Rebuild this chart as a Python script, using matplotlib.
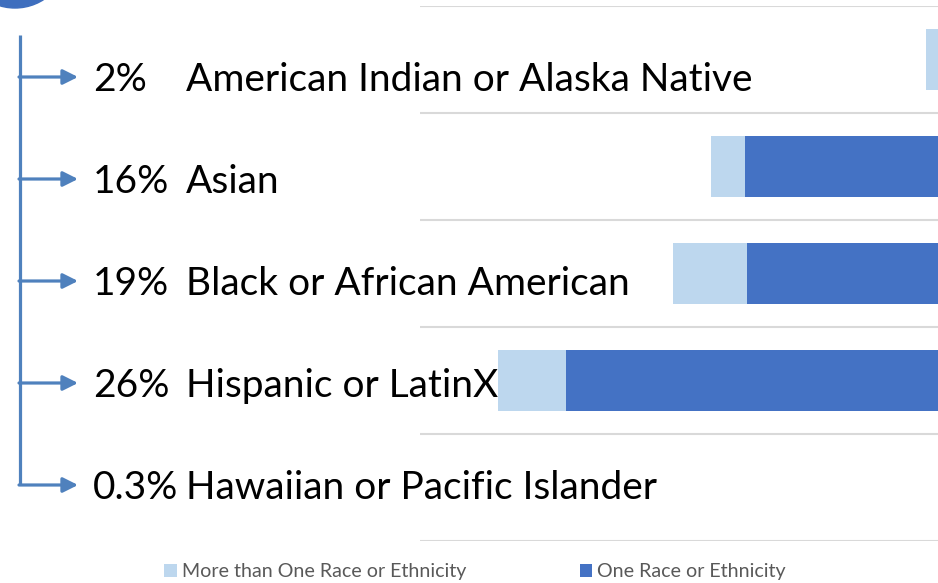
import numpy as np
import matplotlib.pyplot as plt
from matplotlib.patches import Circle

categories = [
    "American Indian or Alaska Native",
    "Asian",
    "Black or African American",
    "Hispanic or LatinX",
    "Hawaiian or Pacific Islander",
]
pct_labels = ["2%", "16%", "19%", "26%", "0.3%"]
one_race = [3.2, 12.87, 12.77, 21.75, 0.3]
multi_race = [0.7, 1.69, 3.67, 3.37, 0.1]
series_names = ["More than One Race or Ethnicity", "One Race or Ethnicity"]

LIGHT = "#BDD7EE"
DARK = "#4472C4"
ARROW = "#4F81BD"
W, H = 938, 583

plt.rcParams["font.family"] = ["Lato", "DejaVu Sans"]
fig = plt.figure(figsize=(W / 100, H / 100), dpi=100)

# bar chart (cropped on the right, bars grow leftwards)
ax = fig.add_axes([420 / W, 1 - 541 / H, 1 - 420 / W, (541 - 6) / H])
ax.patch.set_alpha(0)
y = np.arange(len(categories))
h_one = ax.barh(y, one_race, height=0.57, color=DARK, label=series_names[1])
h_multi = ax.barh(y, multi_race, left=one_race, height=0.57, color=LIGHT,
                  label=series_names[0])
ax.set_xlim(29, 3.3)
ax.set_ylim(len(categories) - 0.5, -0.5)
ax.set_yticks(np.arange(-0.5, len(categories)), minor=False)
ax.yaxis.grid(True, color="#D9D9D9", linewidth=1.5)
ax.set_axisbelow(True)
ax.tick_params(left=False, bottom=False, labelleft=False, labelbottom=False)
for s in ax.spines.values():
    s.set_visible(False)

# overlay in pixel coordinates for the bracket and labels
ov = fig.add_axes([0, 0, 1, 1], zorder=3)
ov.set_xlim(0, W)
ov.set_ylim(H, 0)
ov.axis("off")

ov.add_patch(Circle((15, -45), 53, color="#3E6EBE", clip_on=True))

row_y = 77 + 102 * y
ov.plot([20, 20], [35, row_y[-1]], color=ARROW, lw=2.3, solid_capstyle="butt")
for ry, pct, name in zip(row_y, pct_labels, categories):
    ov.annotate("", xy=(78, ry), xytext=(19, ry),
                arrowprops=dict(arrowstyle="-|>,head_length=0.9,head_width=0.45",
                                color=ARROW, lw=2.3, shrinkA=0, shrinkB=0))
    ov.text(93, ry + 14, pct, fontsize=28, va="baseline", ha="left")
    ov.text(186, ry + 14, name, fontsize=28, va="baseline", ha="left")

fig.legend(handles=[h_multi, h_one], labels=series_names, ncol=2,
           loc="center left", bbox_to_anchor=(164 / W, 1 - 572 / H),
           frameon=False, fontsize=14.1, labelcolor="#595959",
           handlelength=0.65, handleheight=0.65, handletextpad=0.25,
           columnspacing=5.8, borderpad=0, borderaxespad=0)

fig.savefig("out.png", dpi=100)
